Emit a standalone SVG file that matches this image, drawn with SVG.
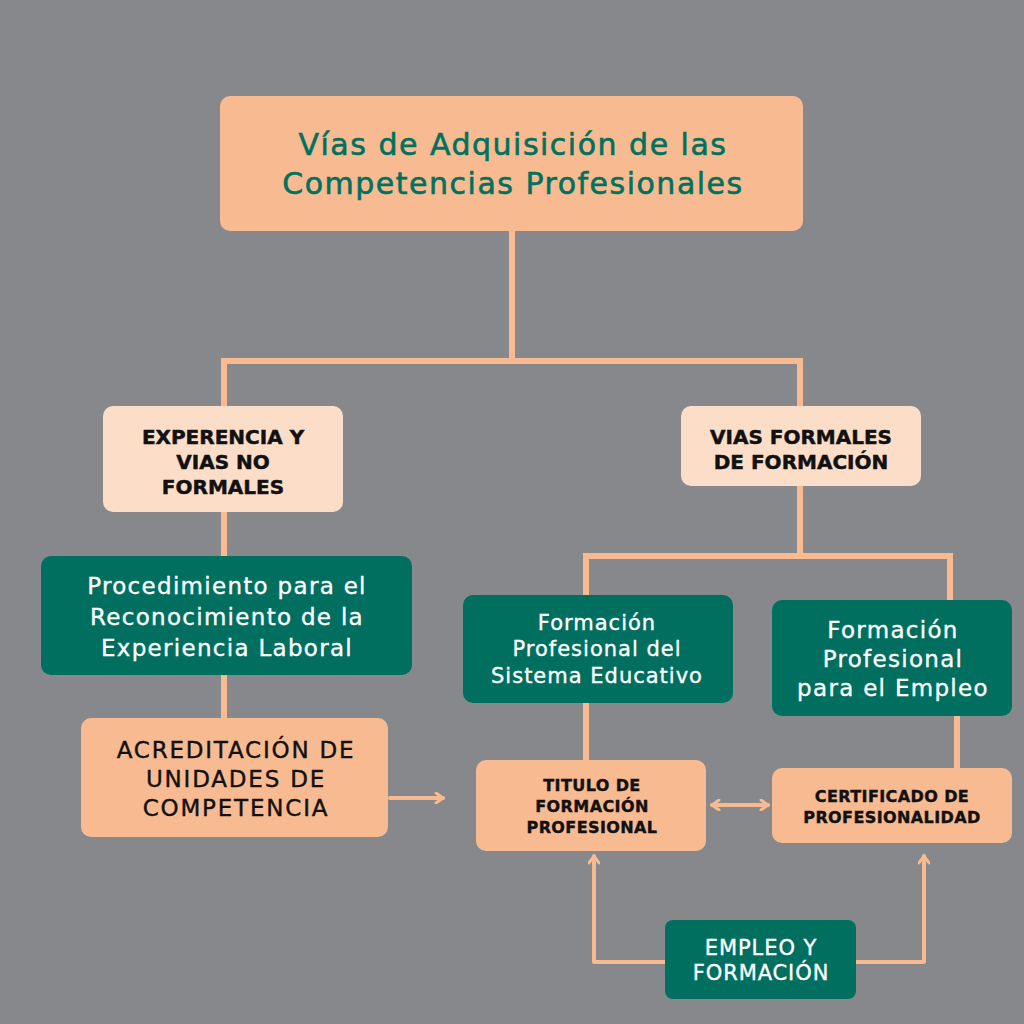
<svg xmlns="http://www.w3.org/2000/svg" width="1024" height="1024" viewBox="0 0 1024 1024">
<defs>
<style>
.bg{fill:#87888c}
.peach{fill:#f8bb91}
.light{fill:#fcdec8}
.green{fill:#006f5f}
.con{fill:none;stroke:#f8bb91;stroke-width:6}
.arr{fill:none;stroke:#f8bb91;stroke-width:4;stroke-linecap:round;stroke-linejoin:round}
text{font-family:"DejaVu Sans","Open Sans",sans-serif;text-anchor:middle}
.title{fill:#00715f;font-size:30px;letter-spacing:1.5px;stroke:#00715f;stroke-width:0.6}
.blk{fill:#111;font-weight:700;font-size:20px;stroke:#111;stroke-width:0.5}
.wht{fill:#fff;font-size:23px;letter-spacing:1.3px;stroke:#fff;stroke-width:0.35}
.acr{fill:#111;font-size:23px;letter-spacing:1.8px;stroke:#111;stroke-width:0.4}
.sm{fill:#111;font-weight:700;font-size:16px;letter-spacing:0.4px;stroke:#111;stroke-width:0.4}
</style>
<marker id="ah" viewBox="0 0 12 12" refX="10" refY="6" markerWidth="12" markerHeight="12" markerUnits="userSpaceOnUse" orient="auto-start-reverse">
<path d="M3 1 L10 6 L3 11" fill="none" stroke="#f8bb91" stroke-width="3" stroke-linecap="round" stroke-linejoin="round"/>
</marker>
</defs>
<rect class="bg" x="0" y="0" width="1024" height="1024"/>
<g id="connectors">
<path class="con" d="M512 231 V361 M222 361 H801 M224 358 V406 M800 358 V406"/>
<path class="con" d="M224 512 V556 M224 675 V718"/>
<path class="con" d="M800 486 V556 M583 556 H953 M586 553 V595 M950 553 V600"/>
<path class="con" d="M586 703 V760 M957 716 V768"/>
<path class="arr" d="M390 798 H443" marker-end="url(#ah)"/>
<path class="arr" d="M712 805 H768" marker-start="url(#ah)" marker-end="url(#ah)"/>
<path class="arr" d="M665 962 H594 V856" marker-end="url(#ah)"/>
<path class="arr" d="M856 962 H924 V856" marker-end="url(#ah)"/>
</g>
<g id="title">
<rect class="peach" x="220" y="96" width="583" height="135" rx="10"/>
<text class="title" x="513" y="155">Vías de Adquisición de las</text>
<text class="title" x="513" y="194">Competencias Profesionales</text>
</g>
<g id="experiencia">
<rect class="light" x="103" y="406" width="240" height="106" rx="10"/>
<text class="blk" x="223" y="444">EXPERENCIA Y</text>
<text class="blk" x="223" y="469">VIAS NO</text>
<text class="blk" x="223" y="494">FORMALES</text>
</g>
<g id="vias-formales">
<rect class="light" x="681" y="406" width="240" height="80" rx="10"/>
<text class="blk" x="801" y="444">VIAS FORMALES</text>
<text class="blk" x="801" y="469">DE FORMACIÓN</text>
</g>
<g id="procedimiento">
<rect class="green" x="41" y="556" width="371" height="119" rx="10"/>
<text class="wht" x="227" y="594">Procedimiento para el</text>
<text class="wht" x="227" y="625">Reconocimiento de la</text>
<text class="wht" x="227" y="656">Experiencia Laboral</text>
</g>
<g id="acreditacion">
<rect class="peach" x="81" y="718" width="307" height="119" rx="10"/>
<text class="acr" x="236" y="758">ACREDITACIÓN DE</text>
<text class="acr" x="236" y="787">UNIDADES DE</text>
<text class="acr" x="236" y="816">COMPETENCIA</text>
</g>
<g id="fp-sistema">
<rect class="green" x="463" y="595" width="270" height="108" rx="10"/>
<text class="wht" x="597" y="630" style="font-size:21px;letter-spacing:1px">Formación</text>
<text class="wht" x="597" y="656" style="font-size:21px;letter-spacing:1px">Profesional del</text>
<text class="wht" x="597" y="683" style="font-size:21px;letter-spacing:1px">Sistema Educativo</text>
</g>
<g id="fp-empleo">
<rect class="green" x="772" y="600" width="240" height="116" rx="10"/>
<text class="wht" x="893" y="638">Formación</text>
<text class="wht" x="893" y="667">Profesional</text>
<text class="wht" x="893" y="696">para el Empleo</text>
</g>
<g id="titulo">
<rect class="peach" x="476" y="760" width="230" height="91" rx="10"/>
<text class="sm" x="592" y="791">TITULO DE</text>
<text class="sm" x="592" y="812">FORMACIÓN</text>
<text class="sm" x="592" y="833">PROFESIONAL</text>
</g>
<g id="certificado">
<rect class="peach" x="772" y="768" width="240" height="75" rx="10"/>
<text class="sm" x="892" y="802">CERTIFICADO DE</text>
<text class="sm" x="892" y="823">PROFESIONALIDAD</text>
</g>
<g id="empleo">
<rect class="green" x="665" y="920" width="191" height="79" rx="8"/>
<text class="wht" x="761" y="955" style="font-size:21px;letter-spacing:0.9px">EMPLEO Y</text>
<text class="wht" x="761" y="980" style="font-size:21px;letter-spacing:0.9px">FORMACIÓN</text>
</g>
</svg>
